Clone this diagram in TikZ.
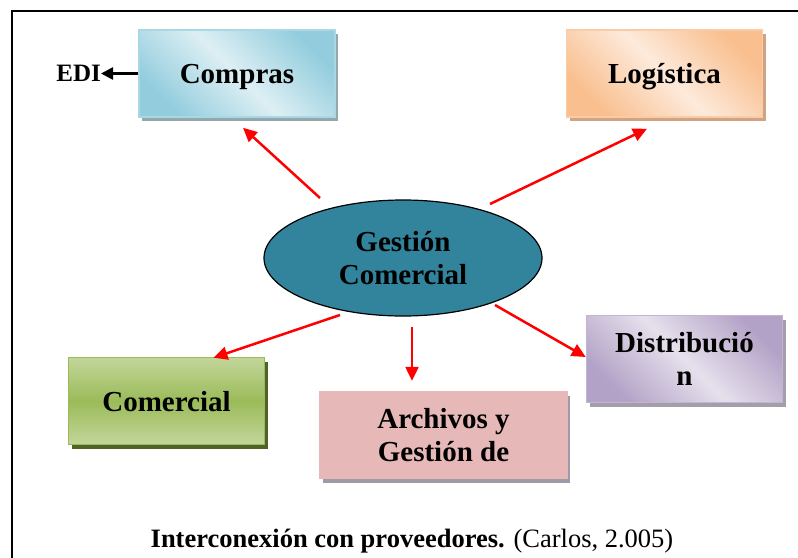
\documentclass[tikz,border=0pt]{standalone}
\usepackage{fontspec}
\setmainfont{Liberation Serif}
\usetikzlibrary{arrows.meta,shadows,calc,shapes.geometric}
\definecolor{comprasosc}{HTML}{93CDDD}
\definecolor{comprascla}{HTML}{DDEFF4}
\definecolor{comprassom}{HTML}{93A8AD}
\definecolor{logosc}{HTML}{F9BF8F}
\definecolor{logcla}{HTML}{FDEADB}
\definecolor{logsom}{HTML}{D1A382}
\definecolor{distosc}{HTML}{B3A2C7}
\definecolor{distcla}{HTML}{E6E0EC}
\definecolor{distsom}{HTML}{A39EA9}
\definecolor{comosc}{HTML}{9BBB59}
\definecolor{comcla}{HTML}{C3D69B}
\definecolor{comsom}{HTML}{4F6228}
\definecolor{archfill}{HTML}{E6B9B8}
\definecolor{archsom}{HTML}{A09AA8}
\definecolor{gestion}{HTML}{31849B}

\begin{document}
\begin{tikzpicture}[x=1pt,y=-1pt,
    caja/.style={draw=#1, line width=1.5pt, minimum width=196pt, minimum height=87pt,
                 inner sep=0pt, align=center, font=\fontsize{29}{33}\selectfont\bfseries},
    sombra/.style={general shadow={fill=#1, shadow xshift=3pt, shadow yshift=-4pt}},
    flecha/.style={red, line width=2.5pt, -{Triangle[length=14pt,width=13pt]}}]
        \useasboundingbox (0,0) rectangle (798,557);                        %
        \draw [line width=2pt] (820,11) -- (12,11) -- (12,580);             %marco

        \node [caja=comprasosc!80, sombra=comprassom, top color=comprasosc, bottom color=comprasosc,
               middle color=comprascla, shading angle=-45, text depth=0pt] (compras) at (237,73.5) {Compras};
        \node [caja=logosc!80, sombra=logsom, top color=logosc, bottom color=logosc,
               middle color=logcla, shading angle=-45, text depth=0pt] (logistica) at (664.5,73.5) {Logística};
        \node [caja=comosc, sombra=comsom, top color=comcla, bottom color=comcla,
               middle color=comosc, text depth=0pt] (comercial) at (166.5,401) {Comercial};
        \node [caja=archfill, sombra=archsom, fill=archfill, minimum width=247pt]
               (archivos) at (443.5,435) {Archivos y\\Gestión de};
        \node [caja=distosc!80, sombra=distsom, top color=distosc, bottom color=distosc,
               middle color=distcla, shading angle=-45] (distribucion) at (684.5,359) {Distribució\\n};

        \node [ellipse, draw, line width=1.2pt, fill=gestion, minimum width=278pt, minimum height=116pt,
               inner sep=0pt, align=center, font=\fontsize{29}{33}\selectfont\bfseries]
               (gc) at (403,258) {Gestión\\Comercial};                      %centro

        \node [anchor=east, inner sep=0pt, font=\fontsize{25}{25}\selectfont\bfseries]
               (edi) at (101,73.5) {EDI};                                   %
        \draw [line width=2.5pt, -{Triangle[length=12pt,width=12pt]}] (compras.west) -- (edi.east);

        \draw [flecha] ($(gc.center)+(-83,-60)$) -- ($(compras.south)+(6,10)$);        %
        \draw [flecha] ($(gc.center)+(87,-54)$)  -- ($(logistica.south)+(-17.5,11)$);  %
        \draw [flecha] ($(gc.center)+(-63,57)$)  -- ($(comercial.north)+(47,1)$);      %
        \draw [flecha] ($(gc.center)+(9,69)$)    -- ($(archivos.north)+(-31.5,-10)$);  %
        \draw [flecha] ($(gc.center)+(92,47)$)   -- ($(distribucion.west)+(0,-2)$);    %

        \node [anchor=base, inner sep=0pt, font=\fontsize{26.5}{30}\selectfont]
               (pie) at (412,547) {\textbf{Interconexión con proveedores.} (Carlos, 2.005)};
\end{tikzpicture}
\end{document}
